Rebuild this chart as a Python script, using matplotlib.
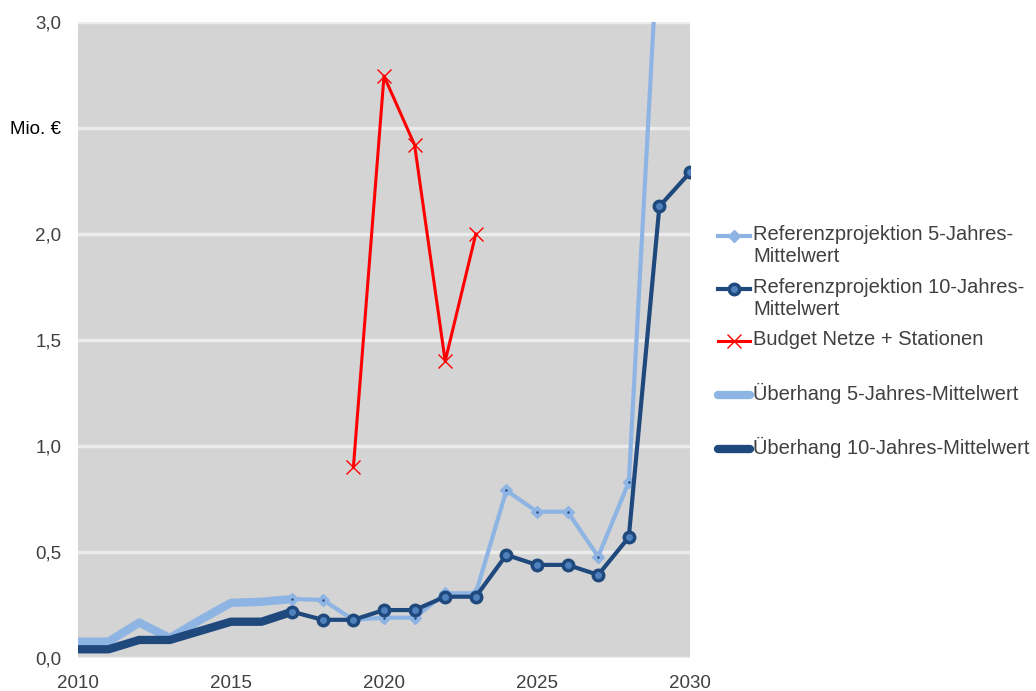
import numpy as np
import matplotlib.pyplot as plt
from matplotlib.legend_handler import HandlerLine2D
import matplotlib.transforms as mtransforms

plt.rcParams['font.family'] = ['Liberation Sans', 'DejaVu Sans']

# Überhang (2010-2017)
years_ueb = np.arange(2010, 2018)
ueb_5 = [0.077, 0.077, 0.167, 0.094, 0.18, 0.26, 0.265, 0.278]
ueb_10 = [0.041, 0.041, 0.085, 0.085, 0.128, 0.171, 0.171, 0.218]

# Referenzprojektion (2017-2030)
years_ref = np.arange(2017, 2031)
ref_5 = [0.278, 0.274, 0.18, 0.19, 0.19, 0.305, 0.305, 0.79, 0.69, 0.69, 0.478, 0.83, 3.5, np.nan]
ref_10 = [0.218, 0.18, 0.18, 0.226, 0.226, 0.289, 0.289, 0.486, 0.439, 0.439, 0.392, 0.569, 2.13, 2.29]

# Budget Netze + Stationen (2019-2023)
years_budget = np.arange(2019, 2024)
budget = [0.90, 2.745, 2.42, 1.40, 2.0]

light = '#8eb4e3'
dark = '#1f497d'
mid = '#4f81bd'
red = '#ff0000'

fig = plt.figure(figsize=(10.36, 6.91), dpi=100)
ax = fig.add_axes([0.0753, 0.0478, 0.5907, 0.9204])
ax.set_facecolor('#d4d4d4')

l_u5, = ax.plot(years_ueb, ueb_5, color=light, lw=6, solid_capstyle='round',
                label='Überhang 5-Jahres-Mittelwert\n ')
l_u10, = ax.plot(years_ueb, ueb_10, color=dark, lw=6, solid_capstyle='round',
                 label='Überhang 10-Jahres-Mittelwert\n ')
l_r5, = ax.plot(years_ref, ref_5, color=light, lw=3, marker='D', ms=6,
                mfc=light, mec=light, label='Referenzprojektion 5-Jahres-\nMittelwert')
ax.plot(years_ref, ref_5, ls='none', marker='.', ms=1.5, color=dark)
l_r10, = ax.plot(years_ref, ref_10, color=dark, lw=3, marker='o', ms=7.5,
                 mfc=mid, mec=dark, mew=2.5,
                 label='Referenzprojektion 10-Jahres-\nMittelwert')
l_b, = ax.plot(years_budget, budget, color=red, lw=2.2, marker='x', ms=10,
               mew=1, label='Budget Netze + Stationen\n ')

ax.set_xlim(2010, 2030)
ax.set_ylim(0, 3.0)
ax.set_xticks([2010, 2015, 2020, 2025, 2030])
yt = [0, 0.5, 1.0, 1.5, 2.0, 2.5, 3.0]
ax.set_yticks(yt)
ax.set_yticklabels(['0,0', '0,5', '1,0', '1,5', '2,0', 'Mio. €', '3,0'])
ax.tick_params(length=0, labelsize=13.5, colors='#404040')
ax.tick_params(axis='y', pad=12)
ax.tick_params(axis='x', pad=12)
ax.get_yticklabels()[5].set_color('black')
ax.grid(axis='y', color='#ececec', lw=2.5)
ax.set_axisbelow(True)
for s in ax.spines.values():
    s.set_visible(False)


class TopLine(HandlerLine2D):
    # lift the handle to the first text line of each entry
    def __init__(self, shift=0, **kw):
        super().__init__(**kw)
        self.shift = shift

    def create_artists(self, legend, orig_handle, xdescent, ydescent, width,
                       height, fontsize, trans):
        arts = super().create_artists(legend, orig_handle, xdescent, ydescent,
                                      width, height, fontsize, trans)
        off = mtransforms.Affine2D().translate(0, self.shift)
        for a in arts:
            a.set_transform(off + trans)
        return arts


handles = [l_r5, l_r10, l_b, l_u5, l_u10]
leg = fig.legend(handles=handles,
                 loc='upper left', bbox_to_anchor=(0.6757, 0.7005),
                 frameon=False, fontsize=14.5, handlelength=1.6,
                 handletextpad=0.15, labelspacing=0.57,
                 handler_map={h: TopLine(shift=7) for h in handles})
for t in leg.get_texts():
    t.set_color('#404040')

fig.savefig('out.png', dpi=100)
